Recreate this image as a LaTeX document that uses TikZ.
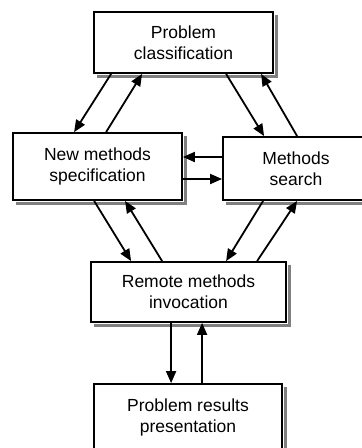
\documentclass[tikz,border=0pt]{standalone}
\usepackage{fontspec}
\setmainfont{Liberation Sans}
\usepackage{tikz}
\usetikzlibrary{arrows.meta}
\tikzset{%
	process box/.style={
		rectangle,
		draw,
		line width=1.8pt,
		fill=white,
		align=center,
		inner sep=0pt,
		font=\fontsize{17.5}{21}\selectfont
	},
	box shadow/.style={
		fill=black!50
	},
	flow arrow/.style={
		line width=1.8pt,
		-{Triangle[length=12pt, width=10pt]}
	},
}
\begin{document}
\begin{tikzpicture}[x=1pt, y=-1pt]
	\useasboundingbox (0,0) rectangle (362,448);
	% boxes
	\node[process box, minimum width=179pt, minimum height=61pt] (classification) at (183.5,42.5) {Problem\\classification};
	\node[process box, minimum width=169pt, minimum height=67pt] (specification) at (97.5,166.5) {New methods\\specification};
	\node[process box, minimum width=146pt, minimum height=63pt] (search) at (296,168.5) {Methods\\search};
	\node[process box, minimum width=195pt, minimum height=60pt] (invocation) at (188.5,292) {Remote methods\\invocation};
	\node[process box, minimum width=188pt, minimum height=66pt] (presentation) at (188,417) {Problem results\\presentation};
	
	% shadows along the right and bottom sides
	\foreach \blk in {classification, specification, search, invocation, presentation} {
		\fill[box shadow] ([xshift=0.9pt, yshift=-4pt]\blk.north east) rectangle ([xshift=4.5pt, yshift=-4.5pt]\blk.south east);
		\fill[box shadow] ([xshift=4pt, yshift=-0.9pt]\blk.south west) rectangle ([xshift=4.5pt, yshift=-4.5pt]\blk.south east);
	}
	
	% classification <-> specification
	\draw[flow arrow] ([xshift=18pt]classification.south west) -- ([xshift=62pt]specification.north west);
	\draw[flow arrow] ([xshift=94pt]specification.north west) -- ([xshift=49pt]classification.south west);
	% classification <-> search
	\draw[flow arrow] ([xshift=133pt]classification.south west) -- ([xshift=42pt]search.north west);
	\draw[flow arrow] ([xshift=75pt]search.north west) -- ([xshift=168pt]classification.south west);
	% specification <-> search
	\draw[flow arrow] ([yshift=11.5pt]search.west) coordinate (back) -- (back -| specification.east);
	\draw[flow arrow] ([yshift=-12.5pt]specification.east) coordinate (forth) -- (forth -| search.west);
	% specification <-> invocation
	\draw[flow arrow] ([xshift=82pt]specification.south west) -- ([xshift=41pt]invocation.north west);
	\draw[flow arrow] ([xshift=72pt]invocation.north west) -- ([xshift=113pt]specification.south west);
	% search <-> invocation
	\draw[flow arrow] ([xshift=41pt]search.south west) -- ([xshift=136pt]invocation.north west);
	\draw[flow arrow] ([xshift=167pt]invocation.north west) -- ([xshift=75pt]search.south west);
	% invocation <-> presentation
	\draw[flow arrow] ([xshift=81pt]invocation.south west) coordinate (down) -- (down |- presentation.north);
	\draw[flow arrow] ([xshift=109pt]presentation.north west) coordinate (up) -- (up |- invocation.south);
\end{tikzpicture}
\end{document}
